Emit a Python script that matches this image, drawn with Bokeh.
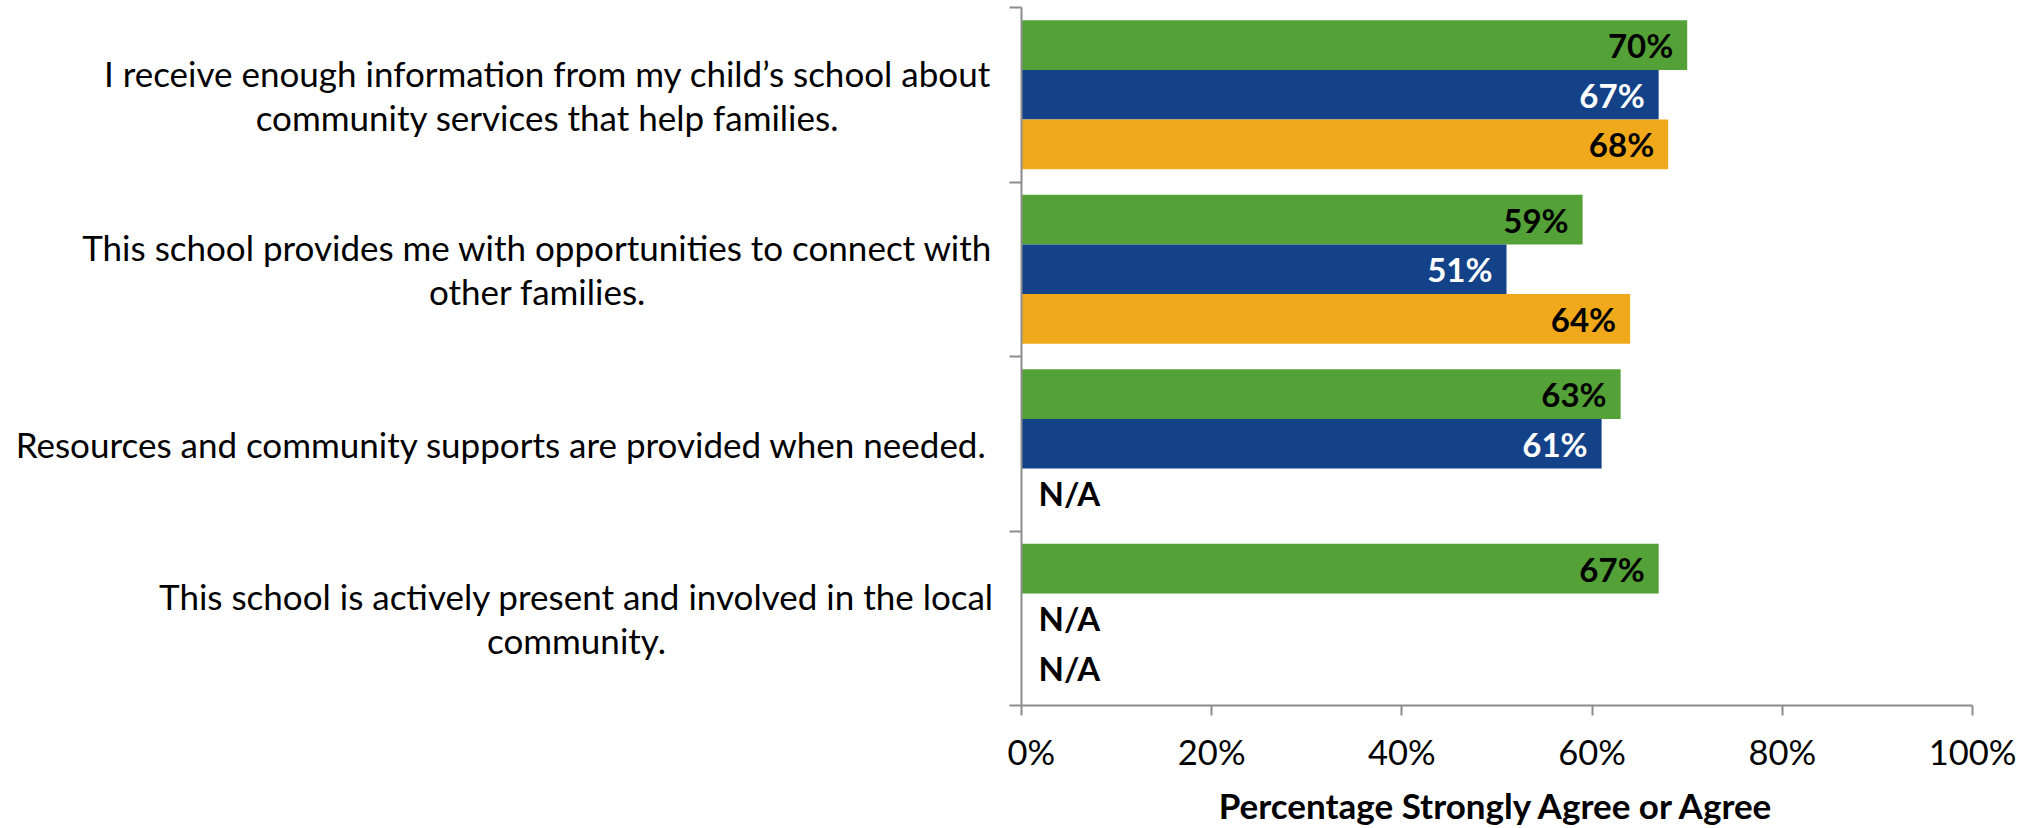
from bokeh.plotting import figure
from bokeh.layouts import row
from bokeh.models import ColumnDataSource, Range1d, FixedTicker, PrintfTickFormatter
from bokeh.core.properties import value
from bokeh.embed import file_html
from bokeh.resources import INLINE

# ---------------- data ----------------
categories = [
    "I receive enough information from my child\u2019s school about\ncommunity services that help families.",
    "This school provides me with opportunities to connect with\nother families.",
    "Resources and community supports are provided when needed.",
    "This school is actively present and involved in the local\ncommunity.",
]
series_names = ["Series 1", "Series 2", "Series 3"]
green_values = [70, 59, 63, 67]
blue_values = [67, 51, 61, None]
orange_values = [68, 64, None, None]
x_ticks = [0, 20, 40, 60, 80, 100]
x_title = "Percentage Strongly Agree or Agree"

# ---------------- style ----------------
FONT = "Lato"
colors = ["#54A137", "#134289", "#F0A91B"]
label_colors = ["black", "white", "black"]
AXIS_COLOR = "#8C8C8C"
BAR_H = 0.285
LEFT_W = 1007
label_centers = [547, 537, 501, 576]   # horizontal centre of each label block (left panel px)

TOP = 7
FRAME_H = 698
y_range = Range1d(len(categories), 0)

# ---------------- left panel: category labels ----------------
lp = figure(frame_width=LEFT_W, frame_height=FRAME_H,
            min_border_left=0, min_border_right=0, min_border_top=TOP, min_border_bottom=110,
            x_range=Range1d(0, LEFT_W), y_range=y_range,
            x_axis_type=None, y_axis_type=None,
            output_backend="svg", toolbar_location=None)
lp.outline_line_color = None
lp.xgrid.visible = False
lp.ygrid.visible = False
csrc = ColumnDataSource(dict(x=label_centers, y=[i + 0.5 for i in range(len(categories))],
                             text=categories))
lp.text(x="x", y="y", text="text", source=csrc, text_align="center", text_baseline="middle",
        text_font=value(FONT), text_font_size="35px", text_line_height=1.04, text_color="black")

# ---------------- main panel ----------------
p = figure(
    frame_width=951, frame_height=FRAME_H,
    min_border_left=14, min_border_right=49, min_border_top=TOP, min_border_bottom=110,
    x_range=Range1d(0, 100), y_range=y_range,
    output_backend="svg", toolbar_location=None,
)
p.outline_line_color = None
p.xgrid.visible = False
p.ygrid.visible = False

all_series = [green_values, blue_values, orange_values]
for j, vals in enumerate(all_series):
    ys, rights, texts, na_y = [], [], [], []
    for i, v in enumerate(vals):
        yc = i + 0.5 + (j - 1) * BAR_H
        if v is None:
            na_y.append(yc)
        else:
            ys.append(yc)
            rights.append(v)
            texts.append(f"{v}%")
    src = ColumnDataSource(dict(y=ys, right=rights, text=texts))
    p.hbar(y="y", left=0, right="right", height=BAR_H, source=src,
           fill_color=colors[j], line_color=None)
    p.text(x="right", y="y", text="text", source=src, x_offset=-14,
           text_align="right", text_baseline="middle",
           text_font=value(FONT), text_font_style="bold", text_font_size="33px",
           text_color=label_colors[j])
    if na_y:
        nsrc = ColumnDataSource(dict(x=[0] * len(na_y), y=na_y, text=["N/A"] * len(na_y)))
        p.text(x="x", y="y", text="text", source=nsrc, x_offset=17,
               text_align="left", text_baseline="middle",
               text_font=value(FONT), text_font_style="bold", text_font_size="33px",
               text_color="black")

xa = p.xaxis[0]
xa.ticker = FixedTicker(ticks=x_ticks)
xa.formatter = PrintfTickFormatter(format="%d%%")
xa.axis_line_color = AXIS_COLOR
xa.axis_line_width = 2
xa.major_tick_line_color = AXIS_COLOR
xa.major_tick_line_width = 2
xa.major_tick_out = 10
xa.major_tick_in = 0
xa.minor_tick_line_color = None
xa.major_label_text_font = FONT
xa.major_label_text_font_size = "34.5px"
xa.major_label_text_color = "black"
xa.major_label_standoff = 15
xa.axis_label = x_title
xa.axis_label_text_font = FONT
xa.axis_label_text_font_size = "35px"
xa.axis_label_text_font_style = "bold"
xa.axis_label_text_color = "black"
xa.axis_label_standoff = 9

# y axis: category-boundary ticks drawn as (label-less) minor ticks
ya = p.yaxis[0]
ya.ticker = FixedTicker(ticks=[], minor_ticks=list(range(len(categories) + 1)))
ya.axis_line_color = AXIS_COLOR
ya.axis_line_width = 2
ya.major_tick_line_color = None
ya.minor_tick_line_color = AXIS_COLOR
ya.minor_tick_line_width = 2
ya.minor_tick_out = 12
ya.minor_tick_in = 0
ya.major_label_standoff = 0

layout = row(lp, p)
open("out.html", "w").write(file_html(layout, INLINE))
